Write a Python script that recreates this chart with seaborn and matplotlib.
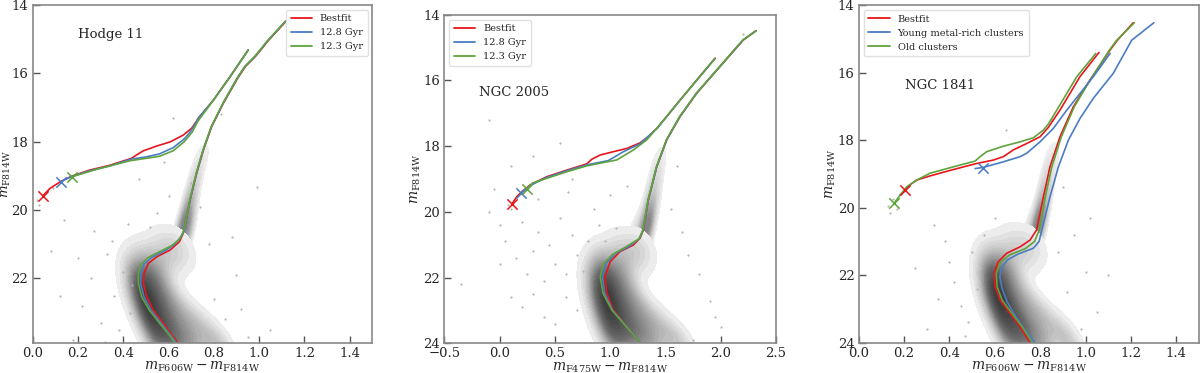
import numpy as np
import pandas as pd
import matplotlib
matplotlib.use("Agg")
import matplotlib.pyplot as plt
import seaborn as sns
from matplotlib.colors import LinearSegmentedColormap
from matplotlib.ticker import MultipleLocator

# ---------------- data ----------------
labels = ["Bestfit", "12.8 Gyr", "12.3 Gyr"]
labels3 = ["Bestfit", "Young metal-rich clusters", "Old clusters"]
names = ["Hodge 11", "NGC 2005", "NGC 1841"]

# Panel 1 (Hodge 11) isochrones: main sequence + red giant branch
p1_red_ms_x = [0.643, 0.621, 0.577, 0.533, 0.504, 0.489, 0.492, 0.511, 0.548, 0.607, 0.648, 0.665, 0.677, 0.695, 0.724, 0.754, 0.790, 0.842, 0.905, 0.940, 0.985, 1.040, 1.120]
p1_red_ms_y = [23.90, 23.71, 23.32, 22.93, 22.54, 22.15, 21.85, 21.56, 21.37, 21.17, 20.93, 20.68, 20.30, 19.71, 18.93, 18.25, 17.57, 16.88, 16.15, 15.80, 15.50, 15.05, 14.47]
p1_blue_ms_x = [0.636, 0.615, 0.569, 0.523, 0.492, 0.477, 0.478, 0.492, 0.526, 0.582, 0.628, 0.655, 0.669, 0.677, 0.695, 0.723, 0.753, 0.789, 0.841, 0.903, 0.938, 0.983, 1.038, 1.118]
p1_blue_ms_y = [23.90, 23.71, 23.32, 22.93, 22.54, 22.15, 21.85, 21.58, 21.39, 21.20, 21.00, 20.78, 20.62, 20.30, 19.71, 18.93, 18.25, 17.57, 16.88, 16.15, 15.80, 15.50, 15.05, 14.47]
p1_green_ms_x = [0.630, 0.610, 0.562, 0.515, 0.482, 0.467, 0.467, 0.478, 0.508, 0.560, 0.612, 0.648, 0.665, 0.677, 0.694, 0.722, 0.752, 0.788, 0.840, 0.902, 0.937, 0.982, 1.037, 1.117]
p1_green_ms_y = [23.90, 23.71, 23.32, 22.93, 22.54, 22.15, 21.85, 21.60, 21.40, 21.22, 21.05, 20.86, 20.64, 20.30, 19.71, 18.93, 18.25, 17.57, 16.88, 16.15, 15.80, 15.50, 15.05, 14.47]
# Panel 1 horizontal branch + AGB
p1_red_hb_x = [0.045, 0.077, 0.121, 0.173, 0.254, 0.342, 0.437, 0.459, 0.489, 0.548, 0.607, 0.665, 0.702, 0.724, 0.731, 0.798, 0.871, 0.952]
p1_red_hb_y = [19.59, 19.37, 19.18, 19.01, 18.83, 18.69, 18.49, 18.39, 18.27, 18.13, 18.01, 17.81, 17.61, 17.40, 17.32, 16.79, 16.11, 15.32]
p1_blue_hb_x = [0.124, 0.173, 0.254, 0.342, 0.437, 0.500, 0.560, 0.620, 0.670, 0.700, 0.724, 0.731, 0.798, 0.871, 0.952]
p1_blue_hb_y = [19.17, 19.02, 18.85, 18.71, 18.51, 18.45, 18.36, 18.18, 17.92, 17.68, 17.42, 17.32, 16.79, 16.11, 15.32]
p1_green_hb_x = [0.173, 0.283, 0.430, 0.500, 0.560, 0.620, 0.670, 0.705, 0.730, 0.798, 0.871, 0.952]
p1_green_hb_y = [19.03, 18.81, 18.56, 18.49, 18.43, 18.27, 18.00, 17.72, 17.40, 16.79, 16.11, 15.32]
p1_marker_x = [0.045, 0.124, 0.173]
p1_marker_y = [19.59, 19.17, 19.03]

# Panel 2 (NGC 2005)
p2_red_ms_x = [1.276, 1.150, 1.028, 0.969, 0.953, 0.999, 1.089, 1.209, 1.270, 1.300, 1.345, 1.421, 1.511, 1.632, 1.783, 1.993, 2.204, 2.319]
p2_red_ms_y = [24.00, 23.49, 22.99, 22.48, 21.97, 21.52, 21.21, 21.01, 20.80, 20.55, 19.64, 18.63, 17.81, 17.10, 16.39, 15.58, 14.77, 14.49]
p2_blue_ms_x = [1.278, 1.148, 1.020, 0.950, 0.930, 0.965, 1.050, 1.180, 1.265, 1.298, 1.344, 1.420, 1.510, 1.630, 1.781, 1.991, 2.202, 2.318]
p2_blue_ms_y = [24.00, 23.49, 22.99, 22.48, 21.97, 21.56, 21.26, 21.03, 20.81, 20.55, 19.64, 18.63, 17.81, 17.10, 16.39, 15.58, 14.77, 14.49]
p2_green_ms_x = [1.280, 1.145, 1.015, 0.935, 0.910, 0.935, 1.020, 1.150, 1.260, 1.296, 1.342, 1.418, 1.508, 1.628, 1.779, 1.989, 2.200, 2.318]
p2_green_ms_y = [24.00, 23.49, 22.99, 22.48, 21.97, 21.60, 21.30, 21.05, 20.82, 20.55, 19.64, 18.63, 17.81, 17.10, 16.39, 15.58, 14.77, 14.49]
p2_red_hb_x = [0.109, 0.155, 0.200, 0.275, 0.426, 0.607, 0.788, 0.833, 0.908, 1.028, 1.150, 1.270, 1.345, 1.406, 1.421, 1.632, 1.783, 1.948]
p2_red_hb_y = [19.77, 19.54, 19.39, 19.18, 18.93, 18.73, 18.54, 18.40, 18.27, 18.17, 18.07, 17.90, 17.71, 17.51, 17.47, 16.60, 15.99, 15.33]
p2_blue_hb_x = [0.191, 0.275, 0.426, 0.607, 0.788, 0.983, 1.119, 1.270, 1.390, 1.421, 1.632, 1.783, 1.948]
p2_blue_hb_y = [19.43, 19.20, 18.95, 18.75, 18.57, 18.44, 18.17, 17.93, 17.56, 17.47, 16.60, 15.99, 15.33]
p2_green_hb_x = [0.245, 0.300, 0.426, 0.607, 0.788, 1.059, 1.209, 1.330, 1.421, 1.632, 1.783, 1.948]
p2_green_hb_y = [19.30, 19.12, 18.98, 18.78, 18.60, 18.42, 18.12, 17.81, 17.46, 16.60, 15.99, 15.33]
p2_marker_x = [0.109, 0.191, 0.245]
p2_marker_y = [19.77, 19.43, 19.30]

# Panel 3 (NGC 1841)
p3_red_ms_x = [0.755, 0.711, 0.667, 0.623, 0.601, 0.596, 0.615, 0.652, 0.711, 0.755, 0.784, 0.814, 0.843, 0.887, 0.946, 1.019, 1.108, 1.140, 1.210]
p3_red_ms_y = [24.00, 23.53, 23.13, 22.74, 22.34, 21.95, 21.60, 21.35, 21.16, 20.96, 20.66, 19.68, 18.79, 17.90, 17.01, 16.22, 15.33, 15.04, 14.52]
p3_blue_ms_x = [0.777, 0.730, 0.690, 0.655, 0.632, 0.622, 0.628, 0.655, 0.700, 0.770, 0.795, 0.807, 0.843, 0.880, 0.924, 0.975, 1.034, 1.122, 1.203, 1.301]
p3_blue_ms_y = [24.00, 23.60, 23.20, 22.80, 22.40, 22.05, 21.80, 21.55, 21.38, 21.20, 21.00, 20.66, 19.68, 18.79, 18.00, 17.36, 16.76, 16.02, 15.04, 14.52]
p3_green_ms_x = [0.766, 0.720, 0.675, 0.632, 0.610, 0.606, 0.624, 0.665, 0.735, 0.775, 0.796, 0.822, 0.851, 0.893, 0.950, 1.020, 1.105, 1.137, 1.215]
p3_green_ms_y = [24.00, 23.53, 23.13, 22.74, 22.34, 21.95, 21.62, 21.40, 21.21, 21.00, 20.66, 19.68, 18.79, 17.90, 17.01, 16.22, 15.33, 15.04, 14.52]
p3_red_hb_x = [0.204, 0.230, 0.256, 0.314, 0.417, 0.520, 0.593, 0.637, 0.681, 0.740, 0.799, 0.836, 0.887, 0.975, 1.059]
p3_red_hb_y = [19.48, 19.30, 19.18, 19.06, 18.87, 18.69, 18.59, 18.49, 18.29, 18.10, 17.90, 17.62, 17.11, 16.12, 15.40]
p3_blue_hb_x = [0.513, 0.546, 0.623, 0.711, 0.740, 0.799, 0.858, 0.917, 0.975, 1.034, 1.108]
p3_blue_hb_y = [18.84, 18.81, 18.67, 18.49, 18.39, 18.05, 17.65, 17.11, 16.62, 16.12, 15.43]
p3_green_hb_x = [0.156, 0.182, 0.212, 0.256, 0.314, 0.417, 0.513, 0.535, 0.564, 0.637, 0.711, 0.770, 0.814, 0.836, 0.873, 0.961, 1.045]
p3_green_hb_y = [19.87, 19.63, 19.38, 19.18, 18.98, 18.79, 18.62, 18.49, 18.34, 18.18, 18.05, 17.93, 17.70, 17.52, 17.11, 16.12, 15.43]
p3_marker_x = [0.204, 0.546, 0.156]
p3_marker_y = [19.48, 18.81, 19.87]

# Star-density clouds (giant branch part and main-sequence part):
# magnitude levels, colour samples across the sequence, relative density
rgb_y = [18.5, 19.0, 19.5, 20.0, 20.4, 20.8]
rgb_w = [0.05, 0.08, 0.13, 0.2, 0.3, 0.4]
ms_y = [21.1, 21.4, 21.7, 22.0, 22.3, 22.6, 22.9, 23.2, 23.5, 23.8, 24.1]
ms_w = [1.2, 1.5, 1.9, 2.3, 2.6, 2.9, 3.1, 3.3, 3.4, 3.5, 3.5]
cloud1_rgb_x = [[0.73, 0.74, 0.75, 0.76, 0.77], [0.70, 0.71, 0.72, 0.73, 0.74], [0.685, 0.695, 0.70, 0.71, 0.72],
                [0.665, 0.675, 0.685, 0.695, 0.705], [0.655, 0.665, 0.675, 0.685, 0.70], [0.63, 0.645, 0.66, 0.675, 0.69]]
cloud1_ms_x = [[0.57, 0.60, 0.625, 0.65, 0.67], [0.49, 0.52, 0.55, 0.58, 0.62], [0.455, 0.475, 0.50, 0.53, 0.57],
               [0.45, 0.47, 0.49, 0.52, 0.56], [0.455, 0.475, 0.50, 0.53, 0.58], [0.465, 0.49, 0.52, 0.56, 0.61],
               [0.48, 0.51, 0.54, 0.58, 0.65], [0.50, 0.53, 0.57, 0.62, 0.70], [0.52, 0.56, 0.60, 0.66, 0.75],
               [0.54, 0.59, 0.64, 0.70, 0.80], [0.56, 0.62, 0.67, 0.74, 0.84]]
cloud2_rgb_x = [[1.40, 1.42, 1.44, 1.46, 1.48], [1.37, 1.39, 1.40, 1.42, 1.44], [1.34, 1.36, 1.38, 1.40, 1.42],
                [1.31, 1.33, 1.35, 1.37, 1.39], [1.28, 1.31, 1.33, 1.35, 1.37], [1.20, 1.25, 1.29, 1.32, 1.35]]
cloud2_ms_x = [[1.08, 1.15, 1.22, 1.27, 1.32], [0.94, 1.00, 1.07, 1.15, 1.25], [0.89, 0.93, 0.98, 1.05, 1.15],
               [0.87, 0.91, 0.96, 1.02, 1.12], [0.87, 0.92, 0.97, 1.04, 1.15], [0.88, 0.94, 1.00, 1.08, 1.20],
               [0.90, 0.97, 1.04, 1.13, 1.27], [0.93, 1.01, 1.09, 1.19, 1.35], [0.96, 1.05, 1.15, 1.27, 1.45],
               [1.00, 1.10, 1.22, 1.35, 1.55], [1.04, 1.15, 1.28, 1.42, 1.65]]
cloud3_rgb_x = [[0.83, 0.84, 0.85, 0.86, 0.87], [0.815, 0.825, 0.835, 0.845, 0.855], [0.80, 0.81, 0.82, 0.83, 0.84],
                [0.785, 0.795, 0.805, 0.815, 0.825], [0.775, 0.785, 0.795, 0.805, 0.815], [0.74, 0.76, 0.775, 0.79, 0.805]]
cloud3_ms_x = [[0.67, 0.70, 0.73, 0.76, 0.785], [0.60, 0.62, 0.65, 0.69, 0.74], [0.575, 0.59, 0.61, 0.64, 0.68],
               [0.57, 0.585, 0.60, 0.63, 0.67], [0.57, 0.59, 0.61, 0.64, 0.69], [0.58, 0.60, 0.63, 0.66, 0.72],
               [0.59, 0.62, 0.65, 0.69, 0.76], [0.61, 0.64, 0.68, 0.72, 0.80], [0.63, 0.67, 0.71, 0.76, 0.85],
               [0.65, 0.70, 0.74, 0.80, 0.90], [0.67, 0.72, 0.77, 0.83, 0.94]]

# Sparse field / HB stars
field1_x = [0.02, 0.03, 0.06, 0.09, 0.14, 0.20, 0.26, 0.33, 0.36, 0.40, 0.43, 0.38, 0.30, 0.22, 0.12, 0.18, 0.27, 0.35, 0.42, 0.44, 0.80, 0.85, 0.90, 0.95, 0.88, 0.78, 0.74, 0.99, 0.60, 0.55, 0.62, 0.83, 0.70, 0.47, 0.52, 0.58, 0.92, 1.05, 0.32, 0.08]
field1_y = [19.70, 19.85, 19.50, 19.35, 20.30, 21.40, 22.00, 21.30, 22.50, 21.80, 23.00, 23.50, 23.30, 22.80, 22.50, 23.80, 20.60, 20.90, 20.40, 22.20, 22.60, 23.20, 21.90, 23.70, 20.80, 21.00, 19.90, 19.32, 19.60, 20.10, 17.30, 17.20, 19.20, 19.10, 20.50, 18.60, 22.90, 23.50, 23.85, 21.20]
field2_x = [-0.35, -0.10, 0.00, 0.05, 0.10, 0.15, 0.20, 0.25, 0.30, 0.35, 0.40, 0.45, 0.50, 0.55, 0.60, 0.65, 0.70, 0.75, 0.80, 0.85, 0.90, 0.00, 0.10, 0.20, 0.30, 0.40, 0.50, 0.60, 0.70, 0.80, 0.95, 1.05, 0.30, 0.55, 0.10, -0.05, 0.65, 1.55, 1.70, 1.80, 1.90, 2.00, 1.65, 1.75, 1.60, 2.20, 1.95, -0.10, 0.08, 0.35, 0.62, 0.85, 1.00, 1.15]
field2_y = [22.2, 17.2, 20.4, 20.9, 19.9, 21.4, 20.3, 21.9, 21.2, 20.6, 22.1, 21.0, 21.6, 20.2, 21.9, 20.7, 21.3, 21.8, 20.9, 21.4, 20.4, 21.6, 22.6, 22.9, 22.5, 23.2, 23.4, 22.6, 23.0, 22.2, 20.9, 20.5, 18.3, 17.9, 18.6, 19.3, 19.0, 19.9, 21.3, 21.9, 22.7, 23.5, 20.6, 23.9, 18.6, 14.6, 23.2, 20.0, 19.8, 19.6, 19.4, 19.9, 19.5, 19.2]
field3_x = [0.13, 0.15, 0.17, 0.18, 0.14, 0.40, 0.42, 0.45, 0.48, 0.50, 0.35, 0.30, 0.38, 0.52, 0.55, 0.47, 0.95, 1.00, 1.05, 0.92, 0.88, 0.98, 1.10, 0.65, 0.85, 0.70, 0.60, 0.25, 0.33, 1.02, 0.90]
field3_y = [19.95, 19.75, 20.05, 19.60, 20.15, 21.60, 22.20, 22.90, 23.40, 21.30, 22.70, 23.60, 21.00, 22.40, 20.80, 23.80, 20.80, 21.90, 23.10, 22.50, 21.30, 23.60, 22.00, 17.70, 17.40, 18.20, 20.30, 21.80, 20.50, 20.30, 19.40]

# ---------------- styling ----------------
sns.set_theme(style="white")
plt.rcParams['font.family'] = ['DejaVu Serif']
plt.rcParams['mathtext.fontset'] = 'dejavuserif'

RED, BLUE, GREEN = '#e8161b', '#4a7cc4', '#5ea33c'
ms_cmap = LinearSegmentedColormap.from_list('ms', ['#f2f2f2', '#b5b5b5', '#6e6e6e', '#3c3c3c'])
rgb_cmap = LinearSegmentedColormap.from_list('rgb', ['#f0f0f0', '#c0c0c0', '#808080'])

fig = plt.figure(figsize=(12, 3.73), dpi=100)
axes = [fig.add_axes([0.0271, 0.0812, 0.2833, 0.906]),
        fig.add_axes([0.3703, 0.0796, 0.2764, 0.881]),
        fig.add_axes([0.7156, 0.0812, 0.2836, 0.905])]

panels = [
    dict(rgb=cloud1_rgb_x, ms=cloud1_ms_x, fx=field1_x, fy=field1_y,
         iso=[(p1_red_ms_x, p1_red_ms_y), (p1_blue_ms_x, p1_blue_ms_y), (p1_green_ms_x, p1_green_ms_y)],
         hb=[(p1_red_hb_x, p1_red_hb_y), (p1_blue_hb_x, p1_blue_hb_y), (p1_green_hb_x, p1_green_hb_y)],
         mk=(p1_marker_x, p1_marker_y), labels=labels, xlim=(0, 1.5), ylim=(23.88, 14),
         xmaj=0.2, xmin=0.05, xlabel=r'$m_{\rm F606W} - m_{\rm F814W}$', loc='upper right',
         text=(0.20, 14.87)),
    dict(rgb=cloud2_rgb_x, ms=cloud2_ms_x, fx=field2_x, fy=field2_y,
         iso=[(p2_red_ms_x, p2_red_ms_y), (p2_blue_ms_x, p2_blue_ms_y), (p2_green_ms_x, p2_green_ms_y)],
         hb=[(p2_red_hb_x, p2_red_hb_y), (p2_blue_hb_x, p2_blue_hb_y), (p2_green_hb_x, p2_green_hb_y)],
         mk=(p2_marker_x, p2_marker_y), labels=labels, xlim=(-0.5, 2.5), ylim=(24, 14),
         xmaj=0.5, xmin=0.1, xlabel=r'$m_{\rm F475W} - m_{\rm F814W}$', loc='upper left',
         text=(-0.19, 16.37)),
    dict(rgb=cloud3_rgb_x, ms=cloud3_ms_x, fx=field3_x, fy=field3_y,
         iso=[(p3_red_ms_x, p3_red_ms_y), (p3_blue_ms_x, p3_blue_ms_y), (p3_green_ms_x, p3_green_ms_y)],
         hb=[(p3_red_hb_x, p3_red_hb_y), (p3_blue_hb_x, p3_blue_hb_y), (p3_green_hb_x, p3_green_hb_y)],
         mk=(p3_marker_x, p3_marker_y), labels=labels3, xlim=(0, 1.5), ylim=(24, 14),
         xmaj=0.2, xmin=0.05, xlabel=r'$m_{\rm F606W} - m_{\rm F814W}$', loc='upper left',
         text=(0.204, 16.37)),
]


def cloud_frame(levels_y, weights, xs_rows):
    rows = []
    for yv, wv, xs in zip(levels_y, weights, xs_rows):
        for xv in xs:
            rows.append((xv, yv, wv))
    return pd.DataFrame(rows, columns=['x', 'y', 'w'])


colors = [RED, BLUE, GREEN]
for i, (ax, p, name) in enumerate(zip(axes, panels, names)):
    sns.kdeplot(data=cloud_frame(rgb_y, rgb_w, p['rgb']), x='x', y='y', weights='w', fill=True,
                levels=16, thresh=0.05, bw_adjust=1.1, gridsize=300, cmap=rgb_cmap, ax=ax)
    sns.kdeplot(data=cloud_frame(ms_y, ms_w, p['ms']), x='x', y='y', weights='w', fill=True,
                levels=24, thresh=0.02, bw_adjust=0.85, gridsize=300, cmap=ms_cmap, ax=ax)
    sns.scatterplot(x=p['fx'], y=p['fy'], s=2.5, color='#b4b4b4', linewidth=0, ax=ax)

    for (xs, ys), c, lab in zip(p['iso'], colors, p['labels']):
        sns.lineplot(x=xs, y=ys, sort=False, estimator=None, color=c, lw=1.2, label=lab, ax=ax)
    for (xs, ys), c in zip(p['hb'], colors):
        sns.lineplot(x=xs, y=ys, sort=False, estimator=None, color=c, lw=1.2, ax=ax)
    for mx, my, c in zip(p['mk'][0], p['mk'][1], colors):
        ax.scatter([mx], [my], marker='x', s=55, color=c, linewidths=1.1, zorder=5)

    ax.set_xlim(*p['xlim'])
    ax.set_ylim(*p['ylim'])
    ax.xaxis.set_major_locator(MultipleLocator(p['xmaj']))
    ax.xaxis.set_minor_locator(MultipleLocator(p['xmin']))
    ax.yaxis.set_major_locator(MultipleLocator(2))
    ax.yaxis.set_minor_locator(MultipleLocator(0.5))
    ax.tick_params(which='both', direction='in', color='#555555', labelsize=9.5, pad=3)
    ax.tick_params(which='major', length=5, width=1)
    ax.tick_params(which='minor', length=2.5, width=0.8)
    ax.tick_params(bottom=True, left=True, top=False, right=False)
    for s in ax.spines.values():
        s.set_color('#888888')
        s.set_linewidth(1.2)
    ax.set_xlabel(p['xlabel'], fontsize=10, labelpad=0)
    ax.set_ylabel(r'$m_{\rm F814W}$', fontsize=9.5 if i == 0 else 10, labelpad=-1 if i == 0 else 0)
    ax.text(p['text'][0], p['text'][1], name, fontsize=9.5, va='center', ha='left')
    leg = ax.legend(loc=p['loc'], fontsize=7, frameon=True, framealpha=0.9,
                    edgecolor='#dddddd', handlelength=2.2, borderpad=0.5, labelspacing=0.5)
    for line in leg.get_lines():
        line.set_linewidth(1.3)

fig.savefig('out.png', dpi=100)
